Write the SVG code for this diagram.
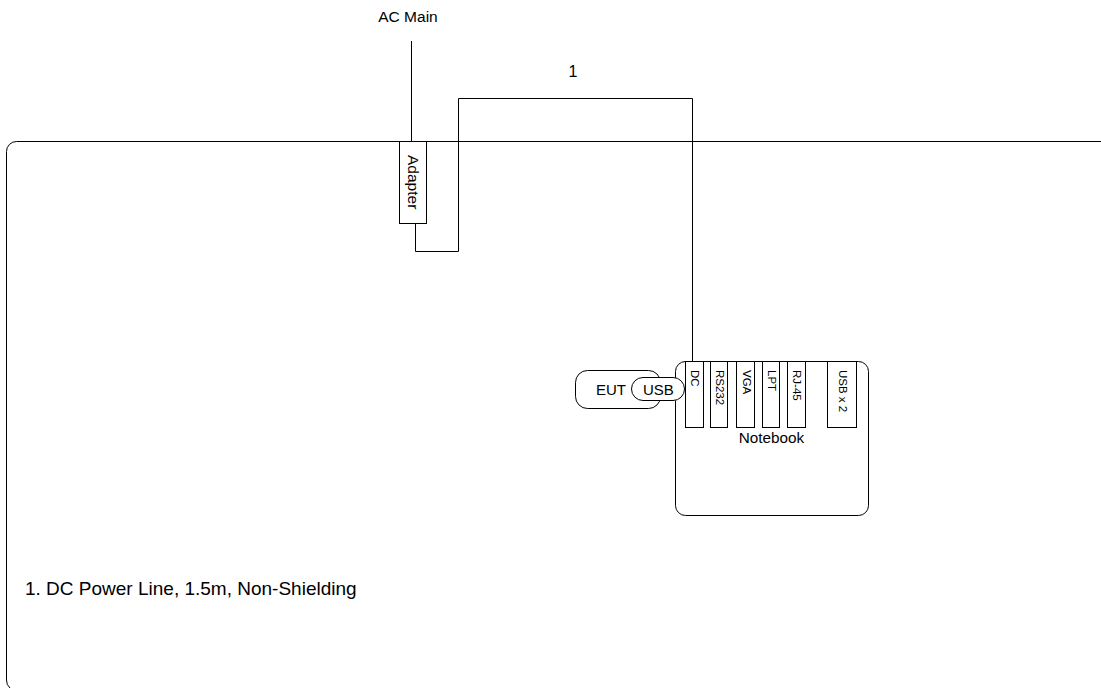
<svg xmlns="http://www.w3.org/2000/svg" width="1101" height="690" viewBox="0 0 1101 690">
<style>
text{font-family:"Liberation Sans",Arial,sans-serif;fill:#000}
.box{fill:#fff;stroke:#000;stroke-width:1}
.w{fill:none;stroke:#000;stroke-width:1}
.p{font-size:11.5px}
</style>
<rect width="1101" height="690" fill="#fff"/>
<g id="frame"><path class="w" d="M1101,141.5 H16.5 A10,10 0 0 0 6.5,151.5 V680 A10,10 0 0 0 10,688"/></g>
<g id="connectors">
<line class="w" x1="411.5" y1="41" x2="411.5" y2="141"/>
<path class="w" d="M415.5,223 V251.5 H458.5 V98.5 H692.5 V362"/>
</g>
<g id="adapter"><rect class="box" x="399.5" y="141.5" width="27" height="82"/>
<text font-size="15.5" transform="translate(407.5,155) rotate(90)">Adapter</text></g>
<g id="notebook">
<rect class="box" x="675.5" y="361.5" width="193" height="154" rx="10"/>
<text x="771.5" y="443" font-size="15.3" text-anchor="middle">Notebook</text>
</g>
<g id="port-dc"><rect class="box" x="685.5" y="361.5" width="18" height="66"/><text class="p" transform="translate(691,370) rotate(90)">DC</text></g>
<g id="port-rs232"><rect class="box" x="710.5" y="361.5" width="17" height="66"/><text class="p" transform="translate(716,370) rotate(90)">RS232</text></g>
<g id="port-vga"><rect class="box" x="736.5" y="361.5" width="18" height="66"/><text class="p" transform="translate(742.5,370) rotate(90)">VGA</text></g>
<g id="port-lpt"><rect class="box" x="762.5" y="361.5" width="17" height="66"/><text class="p" transform="translate(767.5,370) rotate(90)">LPT</text></g>
<g id="port-rj45"><rect class="box" x="787.5" y="361.5" width="18" height="66"/><text class="p" transform="translate(793,370) rotate(90)">RJ-45</text></g>
<g id="port-usb"><rect class="box" x="827.5" y="361.5" width="29" height="66"/><text class="p" transform="translate(839,370) rotate(90)">USB x 2</text></g>
<g id="eut"><rect class="box" x="575.5" y="370.5" width="85" height="38" rx="12"/><text x="611" y="395" font-size="15" text-anchor="middle">EUT</text></g>
<g id="usb"><rect class="box" x="631.5" y="377.5" width="53" height="23" rx="11.5"/><text x="658.3" y="395" font-size="15" text-anchor="middle">USB</text></g>
<text x="408" y="21.7" font-size="15.5" text-anchor="middle">AC Main</text>
<text x="573" y="76.5" font-size="16" text-anchor="middle">1</text>
<text x="25" y="595" font-size="19">1. DC Power Line, 1.5m, Non-Shielding</text>
</svg>
